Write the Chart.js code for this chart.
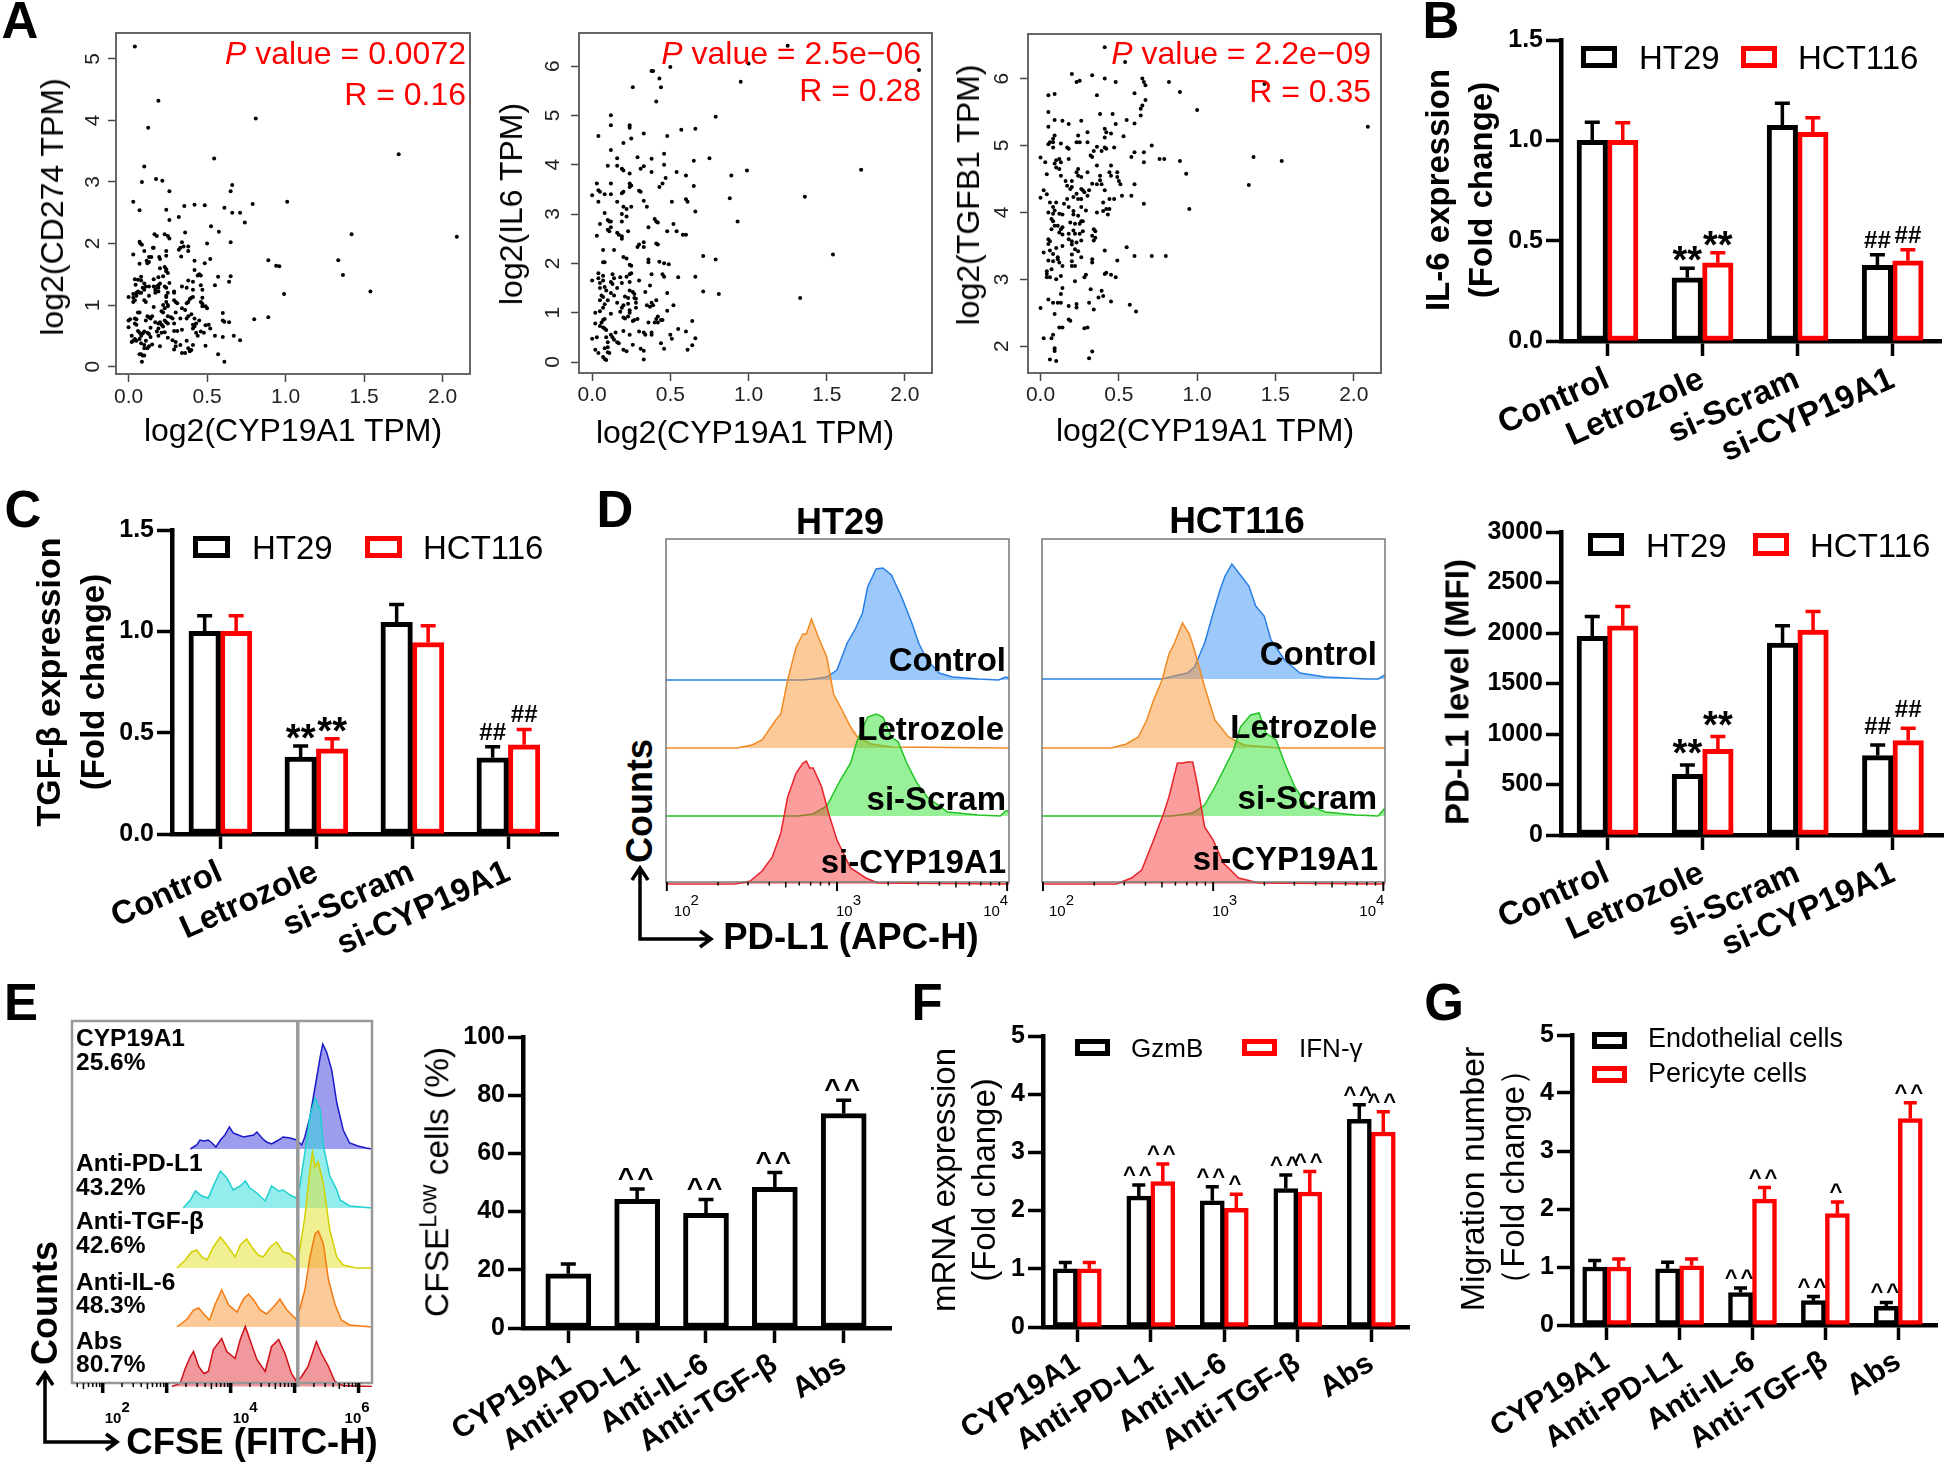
<!DOCTYPE html>
<html>
<head>
<meta charset="utf-8">
<style>
body { margin:0; background:#fff; }
#root { position:relative; width:1944px; height:1463px; overflow:hidden; background:#fff; font-family:"Liberation Sans",Arial,sans-serif; }
canvas { position:absolute; }
.t { position:absolute; white-space:nowrap; line-height:1; color:#000; }
.t sup { font-size:70%; line-height:0; vertical-align:baseline; position:relative; top:-0.5em; }
.box { position:absolute; box-sizing:border-box; background:#fff; }
svg { position:absolute; left:0; top:0; }
</style>
<script src="https://cdn.jsdelivr.net/npm/chart.js@4"></script>
</head>
<body>
<div id="root"></div>
<script>
// panel A scatter, [log2 CYP19A1, log2 gene]
const cd274Points = [[.04,5.2],[.19,4.32],[.125,3.88],[.81,4.03],[1.72,3.45],[.545,3.38],[.1,3.25],[.085,3],[.175,3.05],[.215,3.02],[.26,2.85],[.65,2.85],[.66,2.95],[.03,2.68],[.07,2.54],[.24,2.55],[.355,2.61],[.42,2.63],[.485,2.62],[.61,2.58],[.66,2.5],[.71,2.5],[.79,2.64],[1.01,2.68],[.32,2.43],[.26,2.38],[.74,2.34],[.525,2.28],[.575,2.19],[.36,2.18],[.165,2.15],[.18,2.12],[.23,2.15],[.25,2.12],[.26,2.08],[1.42,2.15],[2.09,2.11],[.65,2.02],[.5,2],[.07,2.03],[.075,2],[.085,1.98],[.34,2.02],[.33,1.93],[.35,1.95],[.38,1.95],[.32,1.9],[.38,1.88],[.335,1.79],[.155,1.93],[.16,1.93],[.1,1.88],[.24,1.88],[.24,1.8],[.03,1.82],[.13,1.78],[.145,1.78],[.195,1.78],[.2,1.75],[.115,1.72],[.13,1.7],[.12,1.68],[.07,1.67],[.42,1.72],[.52,1.75],[.485,1.68],[.89,1.73],[.94,1.64],[.96,1.63],[1.335,1.73],[1.365,1.49],
[.23,1.62],[.24,1.58],[.2,1.6],[.24,1.55],[.25,1.52],[.42,1.57],[.45,1.5],[.46,1.48],[.44,1.48],[.08,1.46],[.22,1.47],[.19,1.45],[.16,1.42],[.04,1.42],[.06,1.41],[.08,1.4],[.38,1.4],[.41,1.38],[.57,1.46],[.65,1.47],[.64,1.38],[.26,1.36],
[.045,1.33],[.1,1.35],[.11,1.3],[.09,1.28],[.1,1.25],[.13,1.3],[.18,1.3],[.19,1.32],[.2,1.35],[.17,1.25],[.19,1.28],[.16,1.3],[.23,1.3],[.24,1.28],[.25,1.2],[.24,1.15],[.05,1.2],[.06,1.22],[.07,1.2],[.08,1.2],[.13,1.15],[.17,1.2],[.19,1.22],[.29,1.22],[.29,1.2],[.34,1.3],[.37,1.28],[.46,1.32],[.55,1.32],[.41,1.25],[.47,1.25],[.99,1.18],[1.54,1.22],
[0,1.13],[.03,1.18],[.03,1.12],[.05,1.15],[.04,1.08],[.03,1.05],[.1,1.08],[.11,1.05],[.24,1.13],[.41,1.13],[.4,1.12],[.39,1.1],[.38,1.05],[.37,1.03],[.47,1.12],[.46,1.05],[.29,1.08],[.3,1.05],[.31,1.03],[.47,1.02],[.24,1.05],[.25,1],[.22,1],
[.16,.97],[.23,.95],[.21,.9],[.22,.88],[.25,.98],[.5,.95],[.49,.98],[.47,.98],[.34,.95],[.36,.92],[.3,.88],[.4,.85],[.6,.87],[.06,.88],[.07,.88],[.12,.82],[.13,.8],[.15,.82],[.25,.82],[.27,.8],[.28,.78],[.38,.82],[.37,.78],[.42,.78],[.89,.8],
[0,.75],[.01,.77],[.04,.78],[.05,.77],[.11,.75],[.14,.78],[.17,.72],[.19,.7],[.2,.72],[.23,.75],[.24,.72],[.21,.68],[.22,.65],[.25,.7],[.29,.7],[.33,.78],[.41,.68],[.42,.65],[.43,.7],[.45,.75],[.6,.75],[.61,.73],[.64,.72],[.8,.77],[.04,.7],[.05,.68],[0,.64],[.19,.62],[.14,.63],[.49,.67],[.51,.68],[.52,.62],[.41,.62],
[.06,.58],[.07,.55],[.08,.5],[.09,.54],[.1,.57],[.12,.55],[.13,.53],[.14,.48],[.18,.57],[.19,.5],[.21,.55],[.23,.56],[.25,.47],[.29,.58],[.31,.58],[.34,.6],[.43,.55],[.46,.57],[.44,.5],[.48,.55],[.55,.5],[.6,.48],[.67,.5],[.71,.43],[.02,.5],[.04,.45],[.05,.42],[.03,.42],[.02,.4],[.07,.45],[.28,.43],[.3,.4],[.37,.42],[.11,.42],
[.08,.38],[.1,.35],[.13,.33],[.15,.36],[.2,.33],[.3,.33],[.33,.35],[.38,.3],[.41,.35],[.49,.34],[.29,.28],[.4,.27],[.07,.2],[.08,.2],[.09,.18],[.1,.18],[.12,.3],[.1,.3],[.34,.22],[.36,.22],[.39,.25],[.57,.2],[.61,.08],[.085,.08]]
const il6Points = [[1.25,6.41],[1,6.05],[2.09,5.92],[.5,5.98],[.39,5.9],[.38,5.9],[.43,5.75],[.44,5.57],[.95,5.68],[.26,5.57],[.41,5.28],[.12,5],[.79,4.97],[.12,4.8],[.24,4.8],[.24,4.75],[.66,4.73],[.57,4.71],[.33,4.63],[.04,4.58],[.48,4.58],[.25,4.53],[.2,4.44],[.12,4.3],[.46,4.22],[.16,4.13],[.29,4.15],[.38,4.12],[.75,4.13],[.65,4.08],[1.72,3.9],[.99,3.88],[.46,4],[.1,3.98],[.16,3.98],[.19,3.92],[.2,3.88],[.24,3.82],[.31,3.92],[.33,3.97],[.38,3.85],[.54,3.85],[.6,3.78],[.89,3.78],[.47,3.73],[.43,3.55],[.45,3.62],[.12,3.62],[.03,3.62],[.04,3.48],[.05,3.45],[.24,3.62],[.25,3.58],[.24,3.55],[.3,3.47],[.31,3.45],[.65,3.57],[0,3.38],[.08,3.4],[.12,3.4],[.19,3.42],[.2,3.45],[.04,3.25],[.33,3.27],[.16,3.25],[1.36,3.35],[.88,3.32],[.51,3.25],[.6,3.3],[.61,3.25],[.2,3.15],[.25,3.15],[.22,3.1],[.35,3.15],[.66,3.05],[.08,3.02],[.19,3],[.22,2.95],[.4,2.9],[.41,2.85],[.42,2.83],[.93,2.85],[.1,2.88],[.11,2.85],[.12,2.85],[.19,2.85],[.05,2.8],[.52,2.8],[.36,2.73],[.12,2.73],[.1,2.68],[.11,2.65],[.23,2.65],[.16,2.62],[.17,2.58],[.19,2.55],[.19,2.5],[.48,2.65],[.54,2.65],[.58,2.58],[.6,2.58],[.03,2.56],[.33,2.43],[.3,2.38],[.29,2.33],[.33,2.33],[.41,2.4],[.42,2.38],[.07,2.27],[.14,2.27],[.71,2.15],[1.54,2.18],[.2,2.13],[.22,2.1],[.36,2.08],[.36,2.02],[.43,2.03],[.46,2],[.49,1.98],[.79,2.08],[.07,2.02],[.08,2.02],[.24,1.97],[.25,1.95],
[.04,1.8],[.04,1.7],[.07,1.75],[.13,1.78],[.14,1.7],[.18,1.72],[.22,1.73],[.24,1.78],[.25,1.8],[.38,1.78],[.45,1.78],[.46,1.73],[.55,1.72],[.66,1.73],[0,1.65],[.05,1.6],[.07,1.65],[.12,1.62],[.13,1.58],[.19,1.6],[.24,1.62],[.3,1.65],[.37,1.55],[.05,1.5],[.08,1.52],[.09,1.45],[.12,1.4],[.16,1.5],[.24,1.45],[.26,1.42],[.27,1.38],[.34,1.42],[.48,1.4],[.71,1.43],[.81,1.38],[.06,1.35],[.07,1.32],[.14,1.35],[.21,1.33],[.23,1.3],[.27,1.3],[.28,1.28],[1.33,1.3],[.05,1.25],[.1,1.25],[.16,1.2],[.2,1.15],[.23,1.18],[.28,1.2],[.38,1.2],[.41,1.25],[.08,1.17],[.07,1.1],[.19,1.1],[.28,1.1],[.35,1.15],[.37,1.12],[.39,1.15],[.52,1.15],[.02,1],[.05,1.03],[.18,1.02],[.24,1.05],[.24,1],[.48,1.04],[.12,.98],[.23,.92],[.2,.9],[.21,.88],[.29,.87],[.27,.85],[.26,.83],[.42,.92],[.41,.87],[.44,.85],[.45,.85],[.07,.85],[.08,.87],[.64,.83],[.02,.78],[.06,.8],[.36,.8],[.4,.8],[.42,.8],[.05,.73],[.07,.7],[.08,.68],[.09,.65],[.15,.6],[.2,.63],[.3,.62],[.33,.6],[.38,.6],[.38,.55],[.55,.67],[.6,.62],[.5,.55],[.51,.47],[.12,.55],[.13,.5],[.14,.45],[.16,.4],[.24,.55],[.34,.55],[.44,.38],[.66,.48],[0,.47],[.03,.5],[.09,.5],[.1,.4],[.17,.38],[.2,.25],[.22,.22],[.26,.35],[.31,.27],[.33,.23],[.46,.27],[.61,.25],[.64,.34],[.02,.25],[.08,.28],[.1,.3],[.1,.2],[.11,.18],[.04,.18],[.07,.1],[.08,.06],[.09,.04],[.33,.05]]
const tgfb1Points = [[.41,6.47],[.54,6.25],[1,6.32],[1.43,5.92],[2.09,5.28],[.2,6.07],[.33,6.05],[.25,5.97],[.23,5.95],[.41,6],[.48,5.95],[.65,6],[.66,5.95],[.82,5.95],[.67,5.9],[.89,5.8],[.6,5.78],[.05,5.75],[.09,5.77],[.36,5.75],[.67,5.68],[.65,5.6],[.64,5.55],[1,5.53],[.05,5.5],[.38,5.47],[.46,5.47],[.64,5.45],[.55,5.38],[.09,5.38],[.14,5.37],[.26,5.37],[.05,5.28],[.18,5.32],[.48,5.32],[.6,5.33],[.41,5.25],[.42,5.2],[.3,5.2],[.24,5.15],[.45,5.18],[.53,5.14],[.09,5.15],[.08,5.1],[.06,5.05],[.08,5.05],[.05,5.02],[.13,5.03],[.23,5.05],[.25,5.05],[.3,5.05],[.41,5.12],[.71,5],[.08,4.97],[.17,4.97],[.18,4.95],[.36,4.98],[.41,4.97],[.42,4.95],[.47,4.97],[.34,4.92],[.39,4.92],[.6,4.9],[.66,4.9],[.32,4.85],[.33,4.83],[.58,4.83],[.79,4.8],[.76,4.8],[.89,4.77],[1.36,4.83],[1.54,4.77],[0,4.82],[.1,4.78],[.12,4.8],[.18,4.8],[.03,4.75],[.09,4.73],[.13,4.75],[.1,4.67],[.12,4.65],[.24,4.65],[.36,4.7],[.45,4.7],[.66,4.75],[.23,4.6],[.3,4.6],[.44,4.6],[.49,4.6],[.04,4.57],[.13,4.55],[.24,4.55],[.26,4.53],[.38,4.55],[.45,4.55],[.49,4.53],[.93,4.58],[.16,4.47],[.2,4.47],[.38,4.48],[.33,4.43],[.36,4.42],[.39,4.42],[.5,4.47],[.51,4.42],[.6,4.42],[1.33,4.41],[.17,4.4],[.2,4.38],[.19,4.35],[.26,4.35],[.27,4.33],[.31,4.33],[.41,4.33],[.02,4.33],[.23,4.28],[.28,4.3],[.3,4.25],[.04,4.27],[0,4.22],[.21,4.23],[.24,4.2],[.26,4.2],[.52,4.25],[.58,4.25],[.44,4.2],[.47,4.2],[.17,4.2],[.06,4.15],[.1,4.15],[.15,4.13],[.4,4.15],[.66,4.13],[.08,4.08],[.09,4.03],[.18,4.08],[.21,4.02],[.26,4.08],[.29,4.03],[.42,4.05],[.44,4.05],[.95,4.05],[.05,4],[.08,3.98],[.12,3.98],[.14,3.97],[.36,4],[.4,4.02],[.43,3.97],[.21,3.97],[.24,3.95],[.07,3.9],[.08,3.87],[.27,3.87],[.09,3.8],[.11,3.8],[.19,3.85],[.22,3.83],[.25,3.83],[.26,3.87],[.14,3.78],[.13,3.75],[.07,3.75],[.21,3.73],[.27,3.72],[.34,3.75],[.35,3.72],[.12,3.7],[.14,3.67],[.18,3.68],[.22,3.68],[.25,3.68],[.33,3.65],[.35,3.62],[.34,3.58],[.05,3.6],[.06,3.57],[.05,3.53],[.18,3.6],[.2,3.57],[.26,3.58],[.23,3.55],[.2,3.52],[.55,3.48],[.1,3.47],[.14,3.5],[.22,3.45],[.24,3.42],[.41,3.43],[.06,3.43],[.02,3.4],[.08,3.38],[.11,3.33],[.11,3.3],[.2,3.37],[.26,3.33],[.6,3.35],[.71,3.35],[.8,3.35],[.05,3.28],[.08,3.27],[.12,3.25],[.2,3.27],[.33,3.3],[.33,3.25],[.49,3.28],[.14,3.2],[.2,3.2],[.22,3.2],[.07,3.15],[.04,3.12],[.04,3.08],[.04,3.03],[.06,3.03],[.1,3],[.13,3.05],[.29,3.07],[.28,3.03],[.41,3.08],[.42,3.1],[.45,3.07],[.48,3.03],[.22,2.97],[.14,2.87],[.32,2.85],[.13,2.78],[.39,2.83],[.4,2.75],[.37,2.73],[.05,2.7],[.08,2.65],[.11,2.65],[.13,2.65],[.18,2.6],[.23,2.63],[.31,2.65],[.45,2.67],[.57,2.62],[.23,2.58],[.34,2.55],[0,2.57],[.61,2.52],[.09,2.48],[.18,2.4],[.19,2.38],[.12,2.28],[.14,2.28],[.28,2.27],[.3,2.28],[.08,2.17],[.02,2.12],[.07,2.12],[.09,1.97],[.09,1.93],[.33,1.92],[.31,1.82],[.06,1.8],[.1,1.78]]
const scatterXTicks = [0,.5,1,1.5,2]
const cd274Ticks = [0,1,2,3,4,5]
const il6Ticks = [0,1,2,3,4,5,6]
const tgfb1Ticks = [2,3,4,5,6]

// bar panels
const treatCats = ['Control','Letrozole','si-Scram','si-CYP19A1']
const abCats = ['CYP19A1','Anti-PD-L1','Anti-IL-6','Anti-TGF-β','Abs']

const il6Ht29 = [1,.315,1.075,.377]
const il6Ht29Top = [1.09,.363,1.185,.43]
const il6Ht29Marks = ['','**','','##']
const il6Hct = [1,.39,1.04,.4]
const il6HctTop = [1.088,.44,1.113,.455]
const il6HctMarks = ['','**','','##']

const tgfHt29 = [1,.38,1.045,.376]
const tgfHt29Top = [1.077,.434,1.132,.43]
const tgfHct = [1,.42,.945,.44]
const tgfHctTop = [1.077,.47,1.028,.516]

const mfiHt29 = [1966,601,1900,786]
const mfiHt29Top = [2164,694,2071,892]
const mfiHct = [2071,849,2028,935]
const mfiHctTop = [2263,975,2213,1057]

const cfseLow = [18.6,44.2,39.4,48.3,73.7]
const cfseLowTop = [22,47.8,44.2,53.4,78.3]
const cfseMarks = ['','^^','^^','^^','^^']

const gzmb = [1,2.25,2.17,2.38,3.57]
const gzmbTop = [1.11,2.44,2.41,2.61,3.82]
const gzmbMarks = ['','^^','^^','^^','^^']
const ifng = [1,2.5,2.04,2.32,3.35]
const ifngTop = [1.11,2.8,2.28,2.67,3.7]
const ifngMarks = ['','^^','^','^^','^^']

const endo = [1,.97,.56,.42,.32]
const endoTop = [1.114,1.08,.64,.49,.39]
const endoMarks = ['','','^^','^^','^^']
const peri = [1,1.02,2.17,1.92,3.56]
const periTop = [1.137,1.137,2.37,2.12,3.83]
const periMarks = ['','','^^','^','^^']

// flow histograms, [log10 intensity, counts]
const ht29Control = [[1.99,0],[2.8,0],[2.86,1],[2.94,3],[3,10],[3.06,37],[3.11,52],[3.15,67],[3.18,93],[3.23,111],[3.27,112],[3.32,105],[3.38,83],[3.44,57],[3.48,37],[3.53,20],[3.6,7],[3.68,3],[3.83,1],[3.95,0],[3.99,3],[4.01,2]]
const ht29Letrozole = [[1.99,0],[2.41,0],[2.5,3],[2.56,8],[2.64,28],[2.67,34],[2.71,68],[2.76,101],[2.8,114],[2.82,114],[2.85,129],[2.89,111],[2.94,91],[2.98,54],[3.03,38],[3.08,21],[3.12,11],[3.2,4],[3.32,1],[4.01,0]]
const ht29Scram = [[1.99,0],[2.77,0],[2.86,2],[2.94,10],[3.02,36],[3.08,53],[3.12,76],[3.18,99],[3.23,102],[3.27,99],[3.32,79],[3.36,74],[3.41,53],[3.47,33],[3.53,19],[3.65,4],[3.83,1],[3.96,0],[3.99,5],[4.01,5]]
const ht29Si = [[1.99,0],[2.4,0],[2.49,3],[2.56,13],[2.62,27],[2.67,51],[2.71,87],[2.76,111],[2.8,121],[2.82,123],[2.84,116],[2.86,116],[2.91,97],[2.95,71],[3,44],[3.08,16],[3.17,6],[3.24,1],[4.01,0]]
const hctControl = [[1.99,0],[2.7,0],[2.77,3],[2.85,6],[2.89,12],[2.95,36],[3,66],[3.04,89],[3.07,103],[3.11,115],[3.16,104],[3.21,93],[3.25,73],[3.3,63],[3.34,39],[3.42,19],[3.51,6],[3.66,2],[3.9,0],[3.97,0],[4.01,4]]
const hctLetrozole = [[1.99,0],[2.4,0],[2.49,4],[2.56,11],[2.61,28],[2.65,48],[2.7,68],[2.74,94],[2.77,104],[2.82,125],[2.86,114],[2.89,98],[2.95,61],[3.01,28],[3.09,11],[3.18,3],[3.39,0],[4.01,0]]
const hctScram = [[1.99,0],[2.76,0],[2.88,3],[2.95,11],[3.01,29],[3.07,49],[3.12,66],[3.16,89],[3.22,101],[3.27,103],[3.31,83],[3.37,76],[3.42,53],[3.48,29],[3.55,11],[3.66,4],[3.84,1],[3.97,0],[4.01,8]]
const hctSi = [[1.99,0],[2.43,0],[2.52,6],[2.58,14],[2.65,44],[2.71,71],[2.74,87],[2.79,121],[2.82,121],[2.85,122],[2.88,122],[2.91,97],[2.95,57],[3,44],[3.06,21],[3.15,6],[3.27,1],[4.01,0]]

const cfseCyp = [[3.37,0],[3.47,4],[3.52,9],[3.58,8],[3.65,9],[3.71,6],[3.77,2],[3.84,9],[3.91,14],[3.98,22],[4.04,16],[4.12,14],[4.2,12],[4.28,13],[4.36,14],[4.41,17],[4.49,11],[4.56,7],[4.64,5],[4.75,9],[4.82,12],[4.93,11],[5.03,9],[5.11,4],[5.16,12],[5.24,32],[5.32,62],[5.4,92],[5.44,105],[5.5,97],[5.58,79],[5.66,46],[5.76,19],[5.86,6],[5.99,3],[6.12,1],[6.21,0]]
const cfsePd = [[3.26,0],[3.37,8],[3.45,17],[3.55,12],[3.65,10],[3.73,22],[3.84,37],[3.94,30],[4.04,18],[4.15,22],[4.23,27],[4.3,20],[4.41,15],[4.54,7],[4.64,22],[4.75,17],[4.82,18],[4.93,13],[5.02,10],[5.08,22],[5.16,55],[5.24,92],[5.32,110],[5.4,98],[5.45,62],[5.55,32],[5.66,18],[5.71,8],[5.86,2],[6.21,0]]
const cfseTgf = [[3.16,0],[3.29,8],[3.39,16],[3.47,18],[3.55,11],[3.63,8],[3.73,21],[3.84,31],[3.94,23],[4.07,11],[4.15,23],[4.25,29],[4.33,21],[4.43,13],[4.51,11],[4.62,21],[4.72,26],[4.82,16],[4.93,14],[5.02,8],[5.08,18],[5.16,51],[5.24,98],[5.28,116],[5.32,101],[5.37,106],[5.45,84],[5.55,38],[5.66,11],[5.76,3],[5.97,0],[6.21,0]]
const cfseIl6 = [[3.16,0],[3.32,8],[3.42,17],[3.5,19],[3.58,13],[3.67,7],[3.76,23],[3.86,37],[3.97,22],[4.1,15],[4.2,28],[4.28,33],[4.36,27],[4.46,17],[4.56,13],[4.67,20],[4.77,28],[4.88,17],[5.02,8],[5.08,18],[5.16,37],[5.24,70],[5.32,93],[5.37,96],[5.45,83],[5.53,47],[5.63,23],[5.73,7],[5.86,2],[6.21,0]]
const cfseAbs = [[3.08,0],[3.21,3],[3.29,18],[3.37,30],[3.42,35],[3.5,20],[3.58,13],[3.65,15],[3.73,37],[3.86,48],[3.94,35],[4.07,28],[4.15,47],[4.23,60],[4.3,47],[4.41,27],[4.54,15],[4.64,40],[4.75,47],[4.85,33],[4.95,13],[5.03,5],[5.11,10],[5.21,20],[5.34,45],[5.42,33],[5.53,20],[5.63,5],[5.76,1],[6.21,0]]

const FONT = '"Liberation Sans"'
Chart.defaults.font.family = FONT
Chart.defaults.animation = false
const root = document.getElementById('root')

function addCanvas(plot, pad, config) {
  const c = document.createElement('canvas')
  const w = plot.r - plot.l + pad.left + pad.right
  const h = plot.b - plot.t + pad.top + pad.bottom
  c.width = w; c.height = h
  c.style.left = (plot.l - pad.left) + 'px'
  c.style.top = (plot.t - pad.top) + 'px'
  c.style.width = w + 'px'; c.style.height = h + 'px'
  root.appendChild(c)
  config.options.responsive = false
  config.options.animation = false
  config.options.plugins = Object.assign({legend:{display:false}, tooltip:{enabled:false}}, config.options.plugins)
  return new Chart(c, config)
}

// html text, anchored on (x,y)
function text(html, x, y, o) {
  o = o || {}
  const d = document.createElement('div')
  d.className = 't'
  d.innerHTML = html
  d.style.left = x + 'px'; d.style.top = y + 'px'
  d.style.fontSize = (o.size || 32) + 'px'
  d.style.fontWeight = o.bold ? 'bold' : 'normal'
  if (o.color) d.style.color = o.color
  if (o.family) d.style.fontFamily = o.family
  const tx = o.align == 'left' ? '0' : o.align == 'right' ? '-100%' : '-50%'
  d.style.transform = `translate(${tx},-50%)` + (o.rot ? ` rotate(${o.rot}deg)` : '')
  root.appendChild(d)
}

function legendBox(x, y, w, h, color) {
  const d = document.createElement('div')
  d.className = 'box'
  d.style.cssText += `left:${x}px;top:${y}px;width:${w}px;height:${h}px;border:5px solid ${color}`
  root.appendChild(d)
}

// err bars and sig marks, on the y scale of the chart
function errPlugin(cfg) {
  return {
    id: 'errs',
    afterDatasetsDraw(chart) {
      const ctx = chart.ctx, ys = chart.scales.y
      chart.data.datasets.forEach((ds, i) => {
        chart.getDatasetMeta(i).data.forEach((bar, j) => {
          const top = ys.getPixelForValue(ds.tops[j])
          ctx.save()
          ctx.strokeStyle = ds.borderColor
          ctx.lineWidth = 3.5
          ctx.beginPath()
          ctx.moveTo(bar.x, bar.y); ctx.lineTo(bar.x, top)
          ctx.moveTo(bar.x - cfg.cap, top); ctx.lineTo(bar.x + cfg.cap, top)
          ctx.stroke()
          const m = ds.marks && ds.marks[j]
          if (m) {
            const st = cfg.marks[m[0]]
            ctx.fillStyle = '#000'
            ctx.font = `bold ${st.size}px ${FONT}`
            ctx.letterSpacing = (st.gap || 0) + 'px'
            ctx.textAlign = 'center'
            ctx.fillText(m, bar.x, top + st.dy - (cfg.lift || 0))
          }
          ctx.restore()
        })
      })
    }
  }
}

function barPanel(o) {
  const pad = {left:130, right:8, top:16, bottom:150}
  const datasets = o.series.map(s => ({
    data: s.vals.map((v, i) => ({x:i, y:v})),
    tops: s.tops, marks: s.marks,
    backgroundColor: '#fff', borderColor: s.color, borderWidth: o.bw || 5,
    borderSkipped: false, barThickness: o.thick
  }))
  const p = o.plot
  addCanvas(p, pad, {
    type: 'bar',
    data: {datasets},
    plugins: [errPlugin({cap:o.cap || 7.5, marks:o.marks, lift:o.lift})],
    options: {
      layout: {padding:{top:pad.top, right:pad.right}},
      scales: {
        x: {
          type:'linear', bounds:'data', offset:false,
          min:(p.l - o.tick0)/o.dx, max:(p.r - o.tick0)/o.dx,
          border:{color:'#000', width:4.5},
          grid:{offset:false, drawOnChartArea:false, tickLength:15, tickWidth:3.5, tickColor:'#000'},
          afterBuildTicks(s){ s.ticks = o.cats.map((c, i) => ({value:i})) },
          ticks:{autoSkip:false, minRotation:o.rot, maxRotation:o.rot,
            color:'#000', padding:o.labelPad, font:{size:o.labelSize, weight:'bold'},
            callback: v => o.cats[v]},
          afterFit(s){ s.height = pad.bottom; s.paddingLeft = 0; s.paddingRight = 0 }
        },
        y: {
          min:0, max:o.yMax,
          border:{color:'#000', width:4.5},
          grid:{drawOnChartArea:false, tickLength:15, tickWidth:3.5, tickColor:'#000'},
          ticks:{stepSize:o.yStep, color:'#000', padding:3, font:{size:o.tickSize || 25, weight:'bold'},
            callback: v => v.toFixed(o.dec)},
          afterFit(s){ s.width = pad.left; s.paddingTop = 0; s.paddingBottom = 0 }
        }
      }
    }
  })
}

// R style scatter
function scatterPanel(o) {
  const pad = {left:60, right:6, top:4, bottom:44}
  const p = o.plot
  const frame = {
    id:'frame',
    afterDraw(chart) {
      const a = chart.chartArea, ctx = chart.ctx, ys = chart.scales.y
      ctx.save()
      ctx.strokeStyle = '#666'; ctx.lineWidth = 2
      ctx.strokeRect(a.left, a.top, a.right - a.left, a.bottom - a.top)
      ctx.fillStyle = '#222'
      ctx.font = `21px ${FONT}`
      ctx.textAlign = 'center'; ctx.textBaseline = 'middle'
      o.yTicks.forEach(v => {
        ctx.save()
        ctx.translate(a.left - o.yLabelGap, ys.getPixelForValue(v))
        ctx.rotate(-Math.PI/2)
        ctx.fillText(String(v), 0, 0)
        ctx.restore()
      })
      ctx.restore()
    }
  }
  addCanvas(p, pad, {
    type:'scatter',
    data:{datasets:[{data:o.points.map(q => ({x:q[0], y:q[1]})), pointRadius:2, pointBackgroundColor:'#000', pointBorderWidth:0}]},
    plugins:[frame],
    options:{
      layout:{padding:{top:pad.top, right:pad.right}},
      scales:{
        x:{type:'linear', bounds:'data', min:o.x[0], max:o.x[1],
          border:{display:false},
          grid:{drawOnChartArea:false, tickLength:8, tickWidth:1.5, tickColor:'#444'},
          afterBuildTicks(s){ s.ticks = scatterXTicks.map(v => ({value:v})) },
          ticks:{color:'#222', padding:o.xPad, font:{size:21}, callback:v => v.toFixed(1)},
          afterFit(s){ s.height = pad.bottom; s.paddingLeft = 0; s.paddingRight = 0 }},
        y:{type:'linear', bounds:'data', min:o.y[0], max:o.y[1],
          border:{display:false},
          grid:{drawOnChartArea:false, tickLength:8, tickWidth:1.5, tickColor:'#444'},
          afterBuildTicks(s){ s.ticks = o.yTicks.map(v => ({value:v})) },
          ticks:{display:false},
          afterFit(s){ s.width = pad.left; s.paddingTop = 0; s.paddingBottom = 0 }}
      }
    }
  })
}

// stacked flow histograms, each curve filled to its own baseline
function flowPanel(o) {
  const p = o.plot
  const pad = {left:2, right:4, top:2, bottom:50}
  const deco = {
    id:'deco',
    afterDatasetsDraw(chart) {
      const ctx = chart.ctx, xs = chart.scales.x, ys = chart.scales.y, a = chart.chartArea
      const base = ys.getPixelForValue(o.frameBottom)
      ctx.save()
      ctx.strokeStyle = o.frameColor; ctx.lineWidth = o.frameWidth
      ctx.strokeRect(a.left, a.top, a.right - a.left, base - a.top)
      ctx.strokeStyle = '#000'
      for (let d = Math.floor(o.x[0]); d <= Math.ceil(o.x[1]); d++) {
        for (let k = 1; k < 10; k++) {
          const v = d + Math.log10(k)
          if (v < o.x[0] || v > o.x[1]) continue
          const px = xs.getPixelForValue(v)
          ctx.lineWidth = k == 1 ? o.majorWidth : 1.5
          ctx.beginPath(); ctx.moveTo(px, base)
          ctx.lineTo(px, base + (k == 1 ? o.majorLen : k == 5 ? o.majorLen * .6 : o.majorLen * .4))
          ctx.stroke()
        }
      }
      // decade labels, the exponent set by hand since canvas has no sup
      ctx.fillStyle = '#000'
      ctx.textAlign = 'left'
      o.labels.forEach(l => {
        const px = xs.getPixelForValue(l.d) + l.dx
        ctx.font = `${o.labelWeight} ${o.labelSize}px ${FONT}`
        ctx.fillText('10', px, base + o.labelDrop)
        const w = ctx.measureText('10').width
        ctx.fillText(String(l.d), px + w, base + o.labelDrop - 11)
      })
      ctx.restore()
    }
  }
  const ds = o.curves.slice().reverse().map(c => ({
    data: c.pts.map(q => ({x:q[0], y:q[1] + c.base})),
    borderColor:c.line, borderWidth:o.lineWidth || 1.5, backgroundColor:c.fill, fill:{value:c.base},
    pointRadius:0, tension:0
  }))
  if (o.gate) ds.unshift({data:[{x:o.gate, y:0},{x:o.gate, y:o.y}], borderColor:'#999', borderWidth:3.5, pointRadius:0, fill:false})
  addCanvas(p, pad, {
    type:'line',
    data:{datasets:ds},
    plugins:[deco],
    options:{
      layout:{padding:{top:pad.top, right:pad.right, left:pad.left, bottom:pad.bottom}},
      scales:{
        x:{type:'linear', display:false, bounds:'data', min:o.x[0], max:o.x[1]},
        y:{type:'linear', display:false, bounds:'data', min:0, max:o.y}
      }
    }
  })
}

// ---- panel A
scatterPanel({plot:{l:116,r:470,t:33,b:374}, points:cd274Points, x:[-.08,2.174], y:[-.12,5.42], yTicks:cd274Ticks, yLabelGap:23, xPad:3})
scatterPanel({plot:{l:579,r:932,t:33,b:373}, points:il6Points, x:[-.084,2.173], y:[-.223,6.67], yTicks:il6Ticks, yLabelGap:26, xPad:2})
scatterPanel({plot:{l:1028,r:1381,t:34,b:373}, points:tgfb1Points, x:[-.08,2.174], y:[1.6,6.667], yTicks:tgfb1Ticks, yLabelGap:26, xPad:2})
text('log2(CYP19A1 TPM)', 293, 430, {size:32})
text('log2(CYP19A1 TPM)', 745, 432, {size:32})
text('log2(CYP19A1 TPM)', 1205, 430, {size:32})
text('log2(CD274 TPM)', 52, 207, {size:32, rot:-90})
text('log2(IL6 TPM)', 511, 204, {size:32, rot:-90})
text('log2(TGFB1 TPM)', 968, 195, {size:32, rot:-90})
const red = '#f00'
text('<i>P</i> value = 0.0072', 466, 53, {size:32, align:'right', color:red})
text('R = 0.16', 466, 94, {size:32, align:'right', color:red})
text('<i>P</i> value = 2.5e−06', 921, 53, {size:32, align:'right', color:red})
text('R = 0.28', 921, 90, {size:32, align:'right', color:red})
text('<i>P</i> value = 2.2e−09', 1371, 53, {size:32, align:'right', color:red})
text('R = 0.35', 1371, 91, {size:32, align:'right', color:red})

// ---- bar panels
const starMarks = {'*':{size:38, dy:5}, '#':{size:24, dy:-7}}
const caretBig = {'^':{size:28, dy:-2, gap:3}}
const caretSmall = {'^':{size:22, dy:-3, gap:3}}

barPanel({plot:{l:1561,r:1941,t:40,b:341}, tick0:1607.5, dx:95.05, yMax:1.5, yStep:.5, dec:1, cats:treatCats, thick:30.5, rot:24, labelSize:33, labelPad:4, marks:starMarks,
  series:[{vals:il6Ht29, tops:il6Ht29Top, marks:il6Ht29Marks, color:'#000'},{vals:il6Hct, tops:il6HctTop, marks:il6HctMarks, color:'#f00'}]})
barPanel({plot:{l:172,r:558,t:530,b:834}, tick0:220.4, dx:96, yMax:1.5, yStep:.5, dec:1, cats:treatCats, thick:31.5, rot:24, labelSize:33, labelPad:4, marks:starMarks,
  series:[{vals:tgfHt29, tops:tgfHt29Top, marks:il6Ht29Marks, color:'#000'},{vals:tgfHct, tops:tgfHctTop, marks:il6HctMarks, color:'#f00'}]})
barPanel({plot:{l:1561,r:1943,t:532,b:835}, tick0:1607.5, dx:95.15, yMax:3000, yStep:500, dec:0, cats:treatCats, thick:30.5, rot:24, labelSize:33, labelPad:4, marks:starMarks, lift:4,
  series:[{vals:mfiHt29, tops:mfiHt29Top, marks:il6Ht29Marks, color:'#000'},{vals:mfiHct, tops:mfiHctTop, marks:il6HctMarks, color:'#f00'}]})
barPanel({plot:{l:523,r:891,t:1037,b:1328}, tick0:568.3, dx:68.85, yMax:100, yStep:20, dec:0, cats:abCats, thick:45, rot:32, labelSize:30, labelPad:4, marks:caretBig, tickSize:25,
  series:[{vals:cfseLow, tops:cfseLowTop, marks:cfseMarks, color:'#000'}]})
barPanel({plot:{l:1043,r:1409,t:1036,b:1327}, tick0:1077.3, dx:73.5, yMax:5, yStep:1, dec:0, cats:abCats, thick:24, bw:4.5, rot:32, labelSize:30, labelPad:4, marks:caretSmall, cap:6.5,
  series:[{vals:gzmb, tops:gzmbTop, marks:gzmbMarks, color:'#000'},{vals:ifng, tops:ifngTop, marks:ifngMarks, color:'#f00'}]})
barPanel({plot:{l:1572,r:1937,t:1035,b:1325}, tick0:1606.7, dx:72.9, yMax:5, yStep:1, dec:0, cats:abCats, thick:24, bw:4.5, rot:32, labelSize:30, labelPad:4, marks:caretSmall, cap:6.5,
  series:[{vals:endo, tops:endoTop, marks:endoMarks, color:'#000'},{vals:peri, tops:periTop, marks:periMarks, color:'#f00'}]})

// axis titles for the bars
text('IL-6 expression', 1437, 190, {size:33, bold:true, rot:-90})
text('(Fold change)', 1480, 190, {size:33, bold:true, rot:-90})
text('TGF-β expression', 48, 682, {size:34, bold:true, rot:-90})
text('(Fold change)', 92, 682, {size:33, bold:true, rot:-90})
text('PD-L1 level (MFI)', 1457, 692, {size:33, bold:true, rot:-90})
text('CFSE<sup>Low</sup> cells (%)', 437, 1182, {size:33.5, rot:-90})
text('mRNA expression', 943, 1180, {size:33, rot:-90})
text('(Fold change)', 983, 1180, {size:33, rot:-90})
text('Migration number', 1472, 1179, {size:34, rot:-90})
text('（Fold change）', 1512, 1177, {size:33, rot:-90})

// legends
legendBox(1581,46,36,22,'#000'); text('HT29',1639,57,{size:33,align:'left'})
legendBox(1741,46,36,22,'#f00'); text('HCT116',1798,57,{size:33,align:'left'})
legendBox(193,536,37,22,'#000'); text('HT29',252,547,{size:33,align:'left'})
legendBox(365,536,37,22,'#f00'); text('HCT116',423,547,{size:33,align:'left'})
legendBox(1588,533,36,23,'#000'); text('HT29',1646,545,{size:33,align:'left'})
legendBox(1753,533,36,23,'#f00'); text('HCT116',1810,545,{size:33,align:'left'})
legendBox(1075,1039,35,17,'#000'); text('GzmB',1131,1048,{size:26,align:'left'})
legendBox(1242,1039,35,17,'#f00'); text('IFN-γ',1299,1048,{size:26,align:'left'})
legendBox(1592,1032,35,17,'#000'); text('Endothelial cells',1648,1038,{size:27,align:'left'})
legendBox(1592,1066,35,17,'#f00'); text('Pericyte cells',1648,1073,{size:27,align:'left'})

// ---- panel D histograms
const lineBlue = '#2a7fe6', fillBlue = 'rgba(60,145,245,.5)'
const lineOrange = '#f08a24', fillOrange = 'rgba(250,150,50,.5)'
const lineGreen = '#22c322', fillGreen = 'rgba(50,225,50,.5)'
const lineRed = '#e6242a', fillRed = 'rgba(250,60,60,.5)'
const flowD = {frameBottom:4, frameColor:'#777', frameWidth:1.5, majorWidth:2, majorLen:9, labelSize:15, labelWeight:'normal', labelDrop:34, y:347}
flowPanel(Object.assign({plot:{l:666,r:1009,t:539,b:886}, x:[1.995,4.011],
  labels:[{d:2,dx:7},{d:3,dx:-1},{d:4,dx:-24}],
  curves:[{pts:ht29Control,base:206,line:lineBlue,fill:fillBlue},{pts:ht29Letrozole,base:138,line:lineOrange,fill:fillOrange},{pts:ht29Scram,base:70,line:lineGreen,fill:fillGreen},{pts:ht29Si,base:2,line:lineRed,fill:fillRed}]}, flowD))
flowPanel(Object.assign({plot:{l:1042,r:1385,t:539,b:886}, x:[1.994,4.01],
  labels:[{d:2,dx:6},{d:3,dx:-1},{d:4,dx:-24}],
  curves:[{pts:hctControl,base:207,line:lineBlue,fill:fillBlue},{pts:hctLetrozole,base:138,line:lineOrange,fill:fillOrange},{pts:hctScram,base:70,line:lineGreen,fill:fillGreen},{pts:hctSi,base:2,line:lineRed,fill:fillRed}]}, flowD))
text('HT29', 840, 522, {size:36, bold:true})
text('HCT116', 1237, 520, {size:37, bold:true})
text('Control',1006,659,{size:33,bold:true,align:'right'})
text('Letrozole',1004,728,{size:33,bold:true,align:'right'})
text('si-Scram',1006,798,{size:33,bold:true,align:'right'})
text('si-CYP19A1',1006,861,{size:33,bold:true,align:'right'})
text('Control',1377,653,{size:33,bold:true,align:'right'})
text('Letrozole',1377,726,{size:33,bold:true,align:'right'})
text('si-Scram',1377,797,{size:33,bold:true,align:'right'})
text('si-CYP19A1',1378,858,{size:33,bold:true,align:'right'})
text('PD-L1 (APC-H)', 851, 937, {size:36.5, bold:true})
text('Counts', 640, 801, {size:36, bold:true, rot:-90})

// ---- panel E histogram
flowPanel({plot:{l:72,r:372,t:1021,b:1387}, x:[1.52,6.21], y:366, gate:5.05, frameBottom:4, frameColor:'#999', frameWidth:2.5, majorWidth:3.5, majorLen:10, labelSize:15, labelWeight:'bold', labelDrop:40, lineWidth:1.5,
  labels:[{d:2,dx:2},{d:4,dx:2},{d:6,dx:-14}],
  curves:[{pts:cfseCyp,base:238,line:'#1a1ac8',fill:'rgba(60,60,220,.5)'},{pts:cfsePd,base:179,line:'#20d0d0',fill:'rgba(40,220,220,.5)'},{pts:cfseTgf,base:119,line:'#d4d000',fill:'rgba(225,225,40,.5)'},{pts:cfseIl6,base:60,line:'#f57a10',fill:'rgba(250,150,50,.5)'},{pts:cfseAbs,base:0.5,line:'#d01018',fill:'rgba(225,50,60,.5)'}]})
const eLabels = [['CYP19A1',1038],['25.6%',1062],['Anti-PD-L1',1163],['43.2%',1187],['Anti-TGF-β',1221],['42.6%',1245],['Anti-IL-6',1282],['48.3%',1305],['Abs',1341],['80.7%',1364]]
eLabels.forEach(l => text(l[0], 76, l[1], {size:24.5, bold:true, align:'left'}))
text('Counts', 45, 1303, {size:36, bold:true, rot:-90})
text('CFSE (FITC-H)', 252, 1442, {size:36.5, bold:true})

// arrows next to Counts
const svgNS = 'http://www.w3.org/2000/svg'
const svg = document.createElementNS(svgNS, 'svg')
svg.setAttribute('width', 1944); svg.setAttribute('height', 1463)
svg.innerHTML = `<g fill="none" stroke="#000" stroke-width="3.5">
<path d="M640 868V939H711M632 880L640 868L648 880M700 931L711 939L700 947"/>
<path d="M45 1373V1442H117M37 1385L45 1373L53 1385M106 1434L117 1442L106 1450"/></g>`
root.appendChild(svg)

// panel letters
const letters = [['A',20,20],['B',1441,20],['C',23,509],['D',615,509],['E',21,1002],['F',927,1002],['G',1444,1002]]
letters.forEach(l => text(l[0], l[1], l[2], {size:51, bold:true}))
</script>
</body>
</html>
